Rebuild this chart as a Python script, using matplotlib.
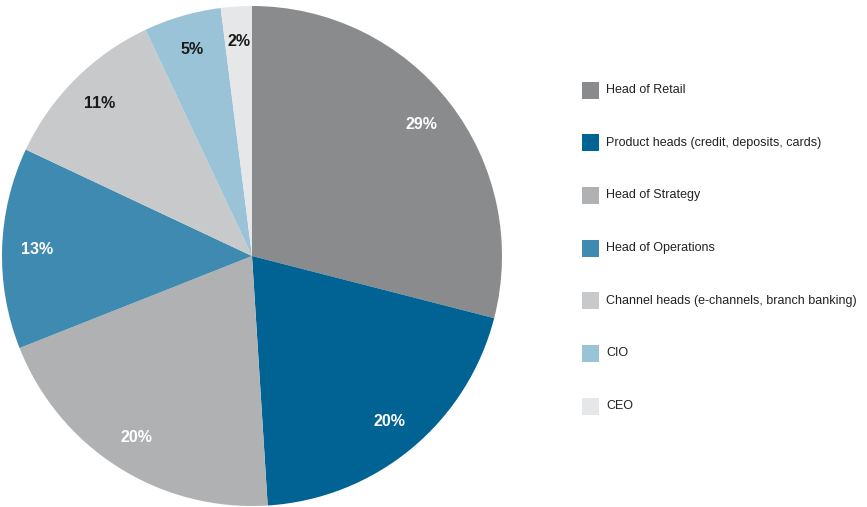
import matplotlib
matplotlib.use("Agg")
import matplotlib.pyplot as plt
from matplotlib.patches import Rectangle

plt.rcParams["font.family"] = ["Liberation Sans", "DejaVu Sans"]

labels = [
    "Head of Retail",
    "Product heads (credit, deposits, cards)",
    "Head of Strategy",
    "Head of Operations",
    "Channel heads (e-channels, branch banking)",
    "CIO",
    "CEO",
]
shares = [29, 20, 20, 13, 11, 5, 2]
colors = ["#8a8b8d", "#006394", "#b0b1b3", "#3f8ab0", "#c8c9cb", "#9bc3d7", "#e6e7e8"]
pct_colors = ["white", "white", "white", "white", "#1a1a1a", "#1a1a1a", "#1a1a1a"]

W, H = 867, 507
fig = plt.figure(figsize=(W / 100, H / 100), dpi=100)

# pie: 500 px circle centred at (252, 256)
ax = fig.add_axes([2 / W, (H - 506) / H, 500 / W, 500 / H])
wedges, _, autotexts = ax.pie(
    shares,
    colors=colors,
    startangle=90,
    counterclock=False,
    autopct="%d%%",
    pctdistance=0.86,
    radius=1.0,
    wedgeprops=dict(linewidth=0),
)
for t, c in zip(autotexts, pct_colors):
    t.set_color(c)
    t.set_fontsize(11.5)
    t.set_fontweight("bold")
ax.set_xlim(-1, 1)
ax.set_ylim(-1, 1)
ax.set_aspect("equal")

# legend, drawn by hand so the rows sit where the reference has them
row0, pitch = 90, 52.7
for i, (lab, col) in enumerate(zip(labels, colors)):
    yc = row0 + i * pitch
    fig.patches.append(
        Rectangle((582 / W, (H - yc - 8.5) / H), 17 / W, 17 / H,
                  transform=fig.transFigure, facecolor=col, edgecolor="none")
    )
    fig.text(606 / W, (H - yc) / H, lab, fontsize=9, color="#222222",
             va="center", ha="left")

fig.savefig("out.png", dpi=100)
